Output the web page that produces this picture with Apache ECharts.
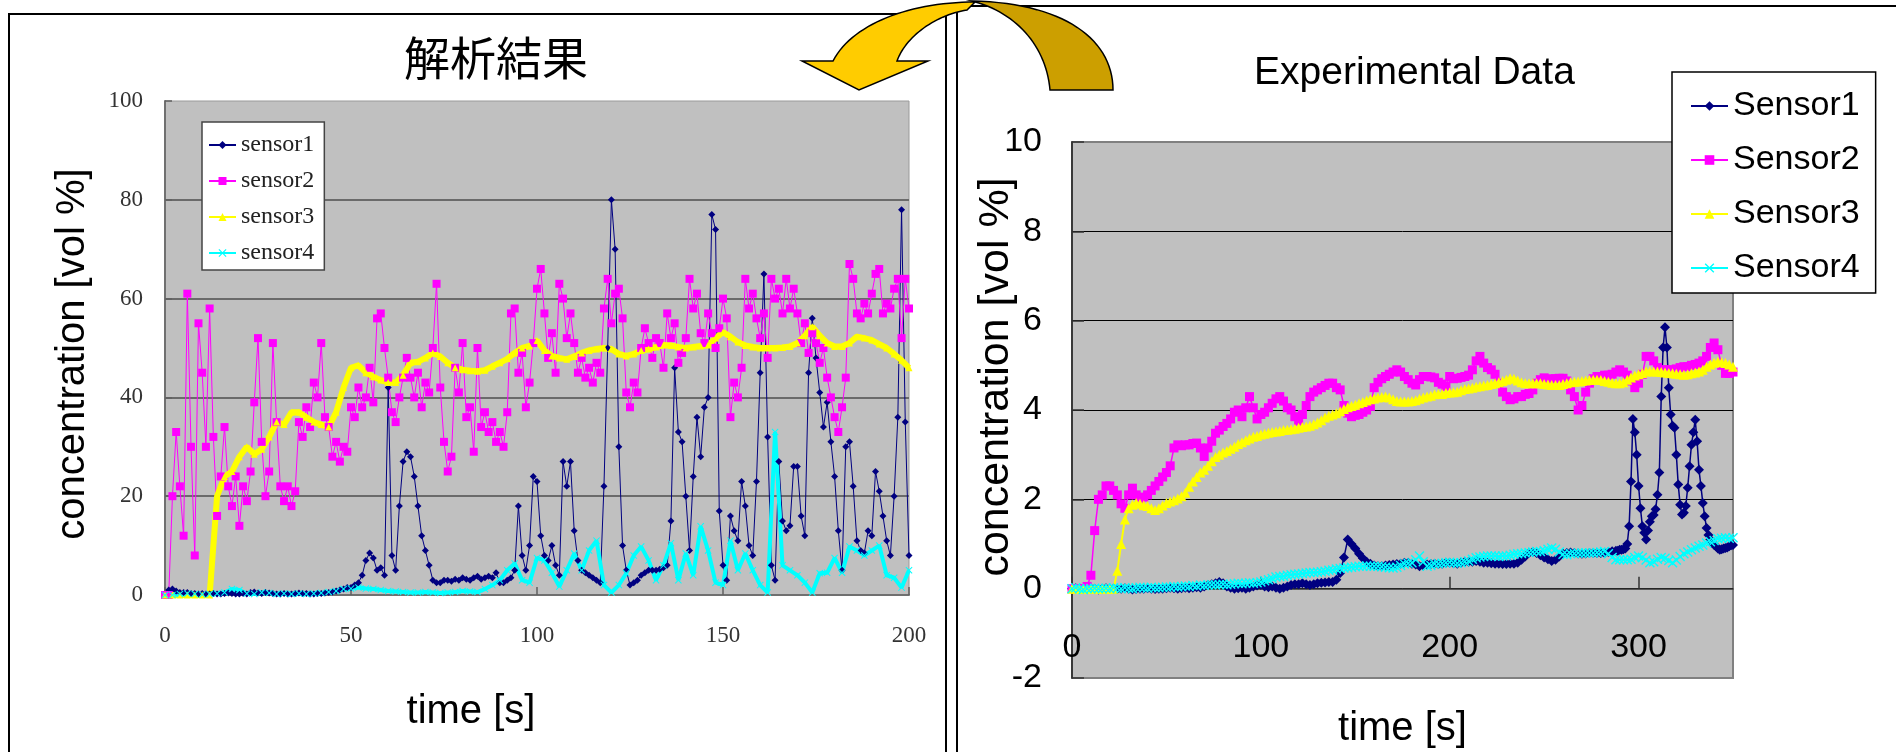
<!DOCTYPE html>
<html><head><meta charset="utf-8">
<script src="https://cdn.jsdelivr.net/npm/echarts@6/dist/echarts.min.js"></script>
<style>html,body{margin:0;padding:0;background:#fff;}#c{width:1896px;height:752px;}</style>
</head><body><div id="c"></div>
<script>
// ---------- Left chart (解析結果): t = 0..200 ----------
const leftTitle = '解析結果';
const leftNames = ['sensor1', 'sensor2', 'sensor3', 'sensor4'];
const leftXTicks = [0, 50, 100, 150, 200];
const leftYTicks = [0, 20, 40, 60, 80, 100];
// sampled every 1 s
const leftSensor1 = [
0,1,1.2,0.8,0.5,0.5,0.5,0.3,0.3,0.2,
0.3,0.2,0.2,0.3,0.2,0.2,0.3,0.4,0.3,0.2,
0.2,0.3,0.2,0.5,0.6,0.4,0.3,0.5,0.4,0.3,
0.2,0.2,0.3,0.2,0.2,0.3,0.4,0.3,0.3,0.2,
0.2,0.3,0.3,0.4,0.5,0.6,0.8,1.0,1.2,1.5,
1.5,2,2.5,4,7,8.5,7.5,5,5.5,4,
42,8,5,18,27,29,28,24,18,12,
9,6,3,2.5,2.5,3,3,2.8,3.2,3,
3.5,3.2,3,3.5,3.8,3.2,3.5,3.8,3.5,4.5,
2.5,2.5,3,3.5,5,18,8,5,10,24,
23,12,8,7,10,6,4,27,22,27,
13,7,5,4.5,4,3.5,3,2.5,22,50,
80,70,30,10,5,2,2.5,3,4,4.5,
5,5,5,5.2,5.5,6,15,46,33,31,
20,9,24,36,28,38,40,77,74,17,
6,3,16,13,11,23,18,10,8,23,
45,65,32,6,3,27,15,13,14,26,
26,16,12,45,56,48,41,34,39,31,
24,13,5,30,31,22,11,9,8.5,13,
12,25,21,16,11,8,20,36,78,35,
8];
const leftSensor2 = [
0,0,20,33,22,12,61,30,8,55,
45,30,58,32,16,24,34,22,18,24,
14,22,19,25,39,52,31,20,25,51,
35,22,19,22,18,21,35,32,38,34,
43,40,51,36,34,28,31,27,30,29,
38,36,42,38,40,46,39,56,57,50,
44,37,35,40,44,48,44,40,45,38,
43,41,50,63,42,31,25,28,46,41,
51,36,38,29,50,34,37,33,35,31,
33,30,37,57,58,45,49,38,43,51,
62,66,57,48,53,45,63,60,52,57,
51,45,48,44,46,43,47,45,58,64,
55,61,62,56,41,38,43,41,50,54,
51,48,52,51,46,57,52,55,47,49,
52,64,58,61,53,51,57,53,50,54,
60,56,36,43,40,46,64,58,61,56,
52,57,48,64,60,62,57,64,58,62,
57,51,55,49,53,51,47,50,44,40,
36,33,38,44,67,64,57,56,59,57,
61,65,66,57,59,58,62,64,52,64,
58];
// sampled every 2 s
const leftSensor3 = [
0,0,0,0,0,0,0,20,24,25,
28,30,28.5,29.5,32,35,34.5,37,37,36,
35,34.5,34,37,42,46,46.5,45,44.2,43.5,
43,43,44.5,47,47.2,48,49,48.3,47,46,
45.6,45.4,45.3,45.5,46.3,47,47.8,49,50,50.4,
51.5,49.5,48.4,48,47.7,48.3,49,49.5,49.8,50,
49.8,48.8,48.4,48.8,49.5,49.8,50.2,50.6,50.5,50.2,
50,50.2,50.4,50.6,52,53.2,52.3,51.2,50.5,50.2,
50,50,50,50.1,50.3,51,52.5,54.3,52.5,51,
50.3,50.3,51,52.3,52,51.6,50.8,50,48.8,47.5,
46];
const leftSensor4 = [
0,0,0.2,0.3,0.2,0.1,0.2,0.3,0.5,1.2,
1,0.3,0.2,0.5,0.4,0.2,0.3,0.2,0.3,0.2,
0.3,0.4,0.6,0.8,1.2,1.3,1.5,1.3,1.2,1,
0.8,0.7,0.6,0.5,0.5,0.6,0.5,0.4,0.5,0.6,
0.8,0.7,0.6,1.2,2,3,5,6.4,3,2.5,
7.5,7,4.5,1.7,5,8.4,5,9,11,2,
0.5,2,4.4,8,9.8,7,3,6,10.5,3,
8.4,4,13.9,9,2.5,2,11,5,8.4,5,
2,0.5,33,6,5,4,2.5,0.5,4.4,4.5,
7.5,4.5,9.8,9,8,9,10,4,3.5,1.5,
5];

// ---------- Right chart (Experimental Data): t = 0..350 ----------
const rightTitle = 'Experimental Data';
const rightNames = ['Sensor1', 'Sensor2', 'Sensor3', 'Sensor4'];
const rightXTicks = [0, 100, 200, 300];
const rightYTicks = [-2, 0, 2, 4, 6, 8, 10];
// Sensor1: every 2 s for t = 0..288, then every 1 s for t = 289..350
const rightSensor1Coarse = [
0,0.01,0,-0.01,0,0.01,0,-0.02,0,0.01,
0,0,-0.01,0,0.01,0,-0.02,-0.01,0,0,
0.01,0,-0.01,0,0,0.01,0.02,0.01,0,0.01,
0.02,0.01,0.02,0.03,0.02,0.05,0.08,0.1,0.12,0.15,
0.12,0.05,0.02,0,0.01,0.02,0,0.02,0.05,0.07,
0.08,0.05,0.03,0.05,0.02,0,0.02,0.05,0.08,0.1,
0.1,0.12,0.1,0.08,0.1,0.12,0.13,0.14,0.15,0.15,
0.2,0.35,0.7,1.1,1.0,0.9,0.78,0.68,0.6,0.56,
0.52,0.5,0.5,0.52,0.53,0.54,0.55,0.56,0.58,0.58,
0.56,0.54,0.5,0.52,0.54,0.55,0.56,0.55,0.56,0.58,
0.58,0.57,0.56,0.58,0.6,0.6,0.6,0.62,0.6,0.58,
0.58,0.57,0.56,0.56,0.55,0.55,0.56,0.56,0.58,0.65,
0.72,0.8,0.82,0.8,0.75,0.7,0.66,0.62,0.65,0.72,
0.78,0.8,0.81,0.8,0.79,0.78,0.79,0.8,0.8,0.8,
0.8,0.8,0.82,0.84,0.85];
const rightSensor1Fine = [
0.85,0.87,0.87,0.88,0.9,1.0,1.4,2.4,3.8,3.5,
3.0,2.3,1.8,1.4,1.25,1.1,1.3,1.5,1.62,1.65,
1.78,2.1,2.6,4.3,5.4,5.85,5.4,4.5,3.9,3.65,
3.6,3.0,2.33,1.88,1.66,1.7,1.85,2.26,2.74,3.22,
3.5,3.78,3.3,2.66,2.3,1.92,1.62,1.36,1.2,1.1,
1.02,0.98,0.95,0.9,0.87,0.88,0.9,0.91,0.92,0.95,
0.97,0.98];
// every 2 s
const rightSensor2 = [
0,0,0,0,0.05,0.3,1.3,2.0,2.1,2.3,
2.3,2.2,2.1,1.9,1.8,2.1,2.25,2.1,2.0,2.05,
2.1,2.2,2.3,2.4,2.5,2.6,2.75,3.15,3.22,3.2,
3.22,3.22,3.25,3.26,3.15,2.96,3.15,3.3,3.48,3.55,
3.63,3.7,3.8,3.95,4.0,3.85,4.05,4.3,4.05,3.8,
3.9,3.95,4.05,4.15,4.25,4.3,4.2,4.05,4.0,3.85,
3.75,3.9,4.1,4.3,4.4,4.45,4.5,4.55,4.6,4.6,
4.5,4.45,4.1,3.93,3.85,3.88,3.9,3.95,4.0,4.08,
4.5,4.62,4.7,4.75,4.8,4.85,4.9,4.85,4.75,4.68,
4.6,4.56,4.68,4.75,4.75,4.74,4.72,4.62,4.58,4.53,
4.75,4.7,4.71,4.73,4.75,4.78,4.9,5.1,5.2,5.05,
4.95,4.9,4.8,4.6,4.4,4.3,4.23,4.25,4.3,4.3,
4.35,4.37,4.45,4.6,4.68,4.72,4.68,4.7,4.7,4.71,
4.71,4.65,4.45,4.3,4.0,4.1,4.4,4.6,4.7,4.75,
4.75,4.78,4.78,4.8,4.85,4.9,4.85,4.78,4.65,4.5,
4.6,4.8,5.2,5.2,5.1,4.95,4.9,4.9,4.9,4.9,
4.92,4.95,4.97,4.97,5.0,5.02,5.05,5.1,5.2,5.4,
5.5,5.35,5.0,4.82,4.82,4.85];
const rightSensor3 = [
0,0,0,0,0,0,0,0,0,0,
0,0,0.4,1.0,1.55,1.8,1.88,1.92,1.9,1.87,
1.85,1.8,1.76,1.8,1.86,1.92,1.95,1.98,2.02,2.07,
2.15,2.28,2.4,2.5,2.6,2.66,2.75,2.85,2.95,3.0,
3.05,3.08,3.13,3.18,3.24,3.28,3.32,3.36,3.4,3.42,
3.45,3.47,3.49,3.51,3.52,3.53,3.55,3.56,3.57,3.58,
3.6,3.62,3.63,3.65,3.68,3.72,3.77,3.83,3.87,3.9,
3.93,3.97,4.02,4.06,4.09,4.12,4.15,4.18,4.21,4.24,
4.26,4.28,4.29,4.3,4.28,4.24,4.2,4.19,4.19,4.19,
4.2,4.22,4.25,4.28,4.3,4.32,4.35,4.36,4.36,4.38,
4.39,4.4,4.41,4.44,4.47,4.48,4.5,4.52,4.53,4.55,
4.56,4.58,4.6,4.62,4.65,4.68,4.71,4.7,4.66,4.62,
4.6,4.6,4.6,4.6,4.6,4.58,4.57,4.56,4.56,4.56,
4.58,4.6,4.62,4.63,4.64,4.65,4.66,4.67,4.68,4.68,
4.67,4.65,4.63,4.61,4.6,4.6,4.62,4.68,4.73,4.77,
4.8,4.83,4.86,4.87,4.86,4.86,4.85,4.84,4.83,4.82,
4.81,4.8,4.79,4.8,4.82,4.84,4.86,4.9,4.97,5.02,
5.06,5.08,5.07,5.05,5.02,4.97];
const rightSensor4 = [
0,0.02,0,-0.02,0,0,0.01,0,0,0.01,
0,0.02,0.01,0,0.02,0.01,0,0.02,0.03,0.02,
0.01,0.03,0.02,0.02,0.03,0.04,0.03,0.05,0.04,0.05,
0.06,0.05,0.07,0.06,0.08,0.07,0.08,0.09,0.08,0.09,
0.1,0.09,0.1,0.11,0.12,0.11,0.12,0.13,0.12,0.13,
0.15,0.18,0.2,0.23,0.26,0.27,0.28,0.3,0.31,0.32,
0.33,0.34,0.35,0.36,0.36,0.37,0.38,0.39,0.41,0.42,
0.44,0.45,0.46,0.47,0.48,0.49,0.5,0.5,0.51,0.5,
0.5,0.5,0.49,0.48,0.47,0.46,0.48,0.52,0.55,0.57,
0.58,0.65,0.73,0.6,0.5,0.52,0.55,0.56,0.57,0.58,
0.59,0.58,0.57,0.58,0.6,0.62,0.66,0.69,0.71,0.72,
0.73,0.73,0.73,0.72,0.73,0.73,0.75,0.77,0.78,0.79,
0.8,0.81,0.82,0.83,0.83,0.85,0.88,0.91,0.88,0.82,
0.77,0.76,0.78,0.79,0.8,0.8,0.8,0.8,0.8,0.81,
0.82,0.83,0.78,0.7,0.65,0.65,0.65,0.65,0.66,0.7,
0.73,0.7,0.64,0.58,0.6,0.66,0.7,0.68,0.63,0.58,
0.64,0.72,0.78,0.82,0.87,0.91,0.95,0.98,1.02,1.05,
1.08,1.12,1.13,1.14,1.13,1.14];

// ---------- helpers ----------
function pairs(values, step, start) { return values.map((v, i) => [start + i * step, v]); }
// decorative arrow outline: cubic bezier sampled into polygon points (pixel space)
function bez(p0, p1, p2, p3, n) {
  const pts = [];
  for (let k = 0; k <= n; k++) {
    const t = k / n, u = 1 - t;
    pts.push([
      u*u*u*p0[0] + 3*u*u*t*p1[0] + 3*u*t*t*p2[0] + t*t*t*p3[0],
      u*u*u*p0[1] + 3*u*u*t*p1[1] + 3*u*t*t*p2[1] + t*t*t*p3[1]
    ]);
  }
  return pts;
}
const arrowBack = [[1050, 90]].concat(
  bez([1113, 90], [1113, 40], [1065, 3], [972, 1], 30),
  bez([972, 1], [1015, 12], [1046, 45], [1050, 90], 30));
const arrowFront = [[802, 61]].concat(
  bez([833, 61], [852, 24], [910, 2], [975, 2], 30),
  bez([967, 10], [936, 15], [906, 36], [897, 61], 30),
  [[928, 61], [859, 90]]);

const sansFont = "'Liberation Sans', Arial, Helvetica, sans-serif";
const serifFont = "'Liberation Serif', 'Times New Roman', Times, serif";
const crossSymbol = 'path://M1,0L5,4L9,0L10,1L6,5L10,9L9,10L5,6L1,10L0,9L4,5L0,1Z';
const colors = ['#000080', '#FF00FF', '#FFFF00', '#00FFFF'];

const chart = echarts.init(document.getElementById('c'), null, {renderer: 'canvas'});

const option = {
  animation: false,
  backgroundColor: '#ffffff',
  textStyle: {fontFamily: sansFont},
  title: [
    {text: leftTitle, left: 404, top: 35, padding: 0,
     textStyle: {fontFamily: "'Noto Sans CJK JP', 'Noto Sans CJK SC', sans-serif", fontSize: 46, fontWeight: 'normal', color: '#000'}},
    {text: rightTitle, left: 1254, top: 54, padding: 0,
     textStyle: {fontFamily: sansFont, fontSize: 39, fontWeight: 'normal', color: '#000'}}
  ],
  legend: [
    {data: leftNames, orient: 'vertical', left: 202, top: 122, itemWidth: 27, itemHeight: 10, itemGap: 12,
     padding: [11, 10, 5, 6], backgroundColor: '#fff', borderColor: '#444', borderWidth: 1.5, borderRadius: 0,
     selectedMode: false, textStyle: {fontFamily: serifFont, fontSize: 24, color: '#222'}},
    {data: rightNames, orient: 'vertical', left: 1672, top: 72, itemWidth: 37, itemHeight: 12, itemGap: 20,
     padding: [17, 16, 8, 18], backgroundColor: '#fff', borderColor: '#000', borderWidth: 1.5, borderRadius: 0,
     selectedMode: false, textStyle: {fontFamily: sansFont, fontSize: 34, color: '#000'}}
  ],
  grid: [
    {left: 165, top: 101, width: 744, height: 494, show: true, backgroundColor: '#C0C0C0',
     borderColor: '#9a9a9a', borderWidth: 1, containLabel: false, outerBoundsMode: 'none'},
    {left: 1072, top: 142, width: 661, height: 536, show: true, backgroundColor: '#C0C0C0',
     borderColor: '#808080', borderWidth: 2, containLabel: false, outerBoundsMode: 'none'}
  ],
  xAxis: [
    {gridIndex: 0, type: 'value', min: leftXTicks[0], max: leftXTicks[leftXTicks.length - 1], interval: 50,
     name: 'time [s]', nameLocation: 'middle', nameGap: 97, nameMoveOverlap: false,
     nameTextStyle: {fontFamily: sansFont, fontSize: 40, color: '#000', padding: [0, 132, 0, 0]},
     axisLine: {show: true, lineStyle: {color: '#707070', width: 2}},
     axisTick: {show: true, inside: true, length: 8, lineStyle: {color: '#606060', width: 1.5}},
     axisLabel: {margin: 29, fontFamily: serifFont, fontSize: 23, color: '#333'},
     splitLine: {show: false}},
    {gridIndex: 1, type: 'value', min: rightXTicks[0], max: 350, interval: 100,
     name: 'time [s]', nameLocation: 'middle', nameGap: 31, nameMoveOverlap: false,
     nameTextStyle: {fontFamily: sansFont, fontSize: 40, color: '#000'},
     axisLine: {show: true, onZero: true, lineStyle: {color: '#333', width: 1.5}},
     axisTick: {show: true, inside: true, length: 12, lineStyle: {color: '#333', width: 1.5}},
     axisLabel: {margin: -47, fontFamily: sansFont, fontSize: 34, color: '#000', showMaxLabel: false},
     splitLine: {show: false}}
  ],
  yAxis: [
    {gridIndex: 0, type: 'value', min: leftYTicks[0], max: leftYTicks[leftYTicks.length - 1], interval: 20,
     name: 'concentration [vol %]', nameLocation: 'middle', nameGap: 72, nameMoveOverlap: false,
     nameTextStyle: {fontFamily: sansFont, fontSize: 40, color: '#000', padding: [0, 12, 0, 0]},
     axisLine: {show: true, lineStyle: {color: '#707070', width: 2}},
     axisTick: {show: true, inside: true, length: 7, lineStyle: {color: '#606060', width: 1.5}},
     axisLabel: {margin: 22, fontFamily: serifFont, fontSize: 23, color: '#333'},
     splitLine: {show: true, showMaxLine: false, lineStyle: {color: '#6a6a6a', width: 2}}},
    {gridIndex: 1, type: 'value', min: rightYTicks[0], max: rightYTicks[rightYTicks.length - 1], interval: 2,
     name: 'concentration [vol %]', nameLocation: 'middle', nameGap: 54, nameMoveOverlap: false,
     nameTextStyle: {fontFamily: sansFont, fontSize: 43, color: '#000', padding: [0, 0, 0, 66]},
     axisLine: {show: true, onZero: false, lineStyle: {color: '#222', width: 1.5}},
     axisTick: {show: true, inside: true, length: 12, lineStyle: {color: '#333', width: 1.5}},
     axisLabel: {margin: 30, fontFamily: sansFont, fontSize: 34, color: '#000'},
     splitLine: {show: true, showMaxLine: false, showMinLine: false, lineStyle: {color: '#000', width: 1}}}
  ],
  series: [
    {name: leftNames[0], type: 'line', xAxisIndex: 0, yAxisIndex: 0, data: pairs(leftSensor1, 1, 0),
     symbol: 'diamond', symbolSize: 7, lineStyle: {color: colors[0], width: 1}, itemStyle: {color: colors[0]}},
    {name: leftNames[1], type: 'line', xAxisIndex: 0, yAxisIndex: 0, data: pairs(leftSensor2, 1, 0),
     symbol: 'rect', symbolSize: 8, lineStyle: {color: colors[1], width: 1}, itemStyle: {color: colors[1]}},
    {name: leftNames[2], type: 'line', xAxisIndex: 0, yAxisIndex: 0, data: pairs(leftSensor3, 2, 0),
     symbol: 'triangle', symbolSize: 7, lineStyle: {color: colors[2], width: 6}, itemStyle: {color: colors[2]}},
    {name: leftNames[3], type: 'line', xAxisIndex: 0, yAxisIndex: 0, data: pairs(leftSensor4, 2, 0),
     symbol: crossSymbol, symbolSize: 7, lineStyle: {color: colors[3], width: 4}, itemStyle: {color: colors[3]}},
    {name: rightNames[0], type: 'line', xAxisIndex: 1, yAxisIndex: 1,
     data: pairs(rightSensor1Coarse, 2, 0).concat(pairs(rightSensor1Fine, 1, 289)),
     symbol: 'diamond', symbolSize: 10, lineStyle: {color: colors[0], width: 1.5}, itemStyle: {color: colors[0]}},
    {name: rightNames[1], type: 'line', xAxisIndex: 1, yAxisIndex: 1, data: pairs(rightSensor2, 2, 0),
     symbol: 'rect', symbolSize: 9, lineStyle: {color: colors[1], width: 1.5}, itemStyle: {color: colors[1]}},
    {name: rightNames[2], type: 'line', xAxisIndex: 1, yAxisIndex: 1, data: pairs(rightSensor3, 2, 0),
     symbol: 'triangle', symbolSize: 10, lineStyle: {color: colors[2], width: 2}, itemStyle: {color: colors[2]}},
    {name: rightNames[3], type: 'line', xAxisIndex: 1, yAxisIndex: 1, data: pairs(rightSensor4, 2, 0),
     symbol: crossSymbol, symbolSize: 10, lineStyle: {color: colors[3], width: 1.5}, itemStyle: {color: colors[3]}}
  ],
  graphic: [
    {type: 'rect', shape: {x: 9, y: 14, width: 937, height: 800}, style: {fill: 'none', stroke: '#000', lineWidth: 2}, z: 0},
    {type: 'rect', shape: {x: 957, y: 6, width: 1000, height: 800}, style: {fill: 'none', stroke: '#000', lineWidth: 2}, z: 0},
    {type: 'polygon', z: 100, shape: {points: arrowBack}, style: {fill: '#CC9F00', stroke: '#000', lineWidth: 1.5}},
    {type: 'polygon', z: 101, shape: {points: arrowFront}, style: {fill: '#FFCC00', stroke: '#000', lineWidth: 1.5}}
  ]
};
chart.setOption(option);
</script></body></html>
